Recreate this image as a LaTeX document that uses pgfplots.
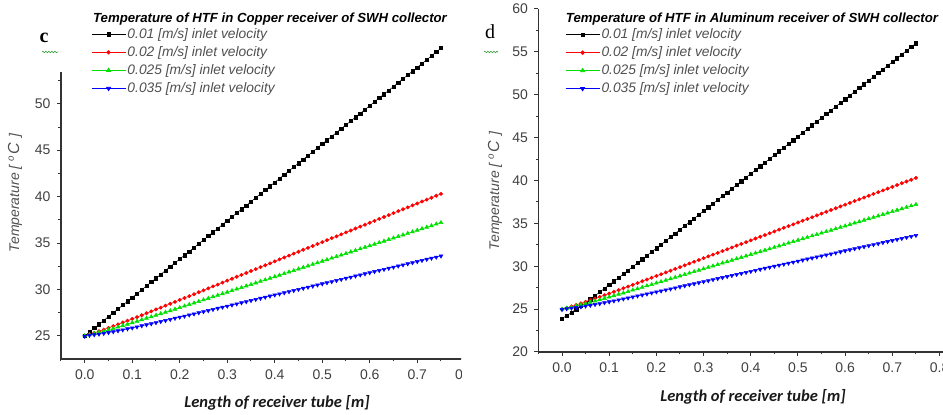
\documentclass[border=0pt]{standalone}
\usepackage{fontspec}
\setmainfont{Liberation Sans}
\newfontfamily\carlito{Carlito}
\newfontfamily\tnr{Liberation Serif}
\usepackage{pgfplots}
\usepackage{pgfplotstable}
\pgfplotsset{compat=1.18}
\usetikzlibrary{decorations.pathmorphing}

\definecolor{axisgray}{HTML}{333333}
\definecolor{tickgray}{HTML}{404040}
\definecolor{leggray}{HTML}{505050}
\definecolor{mygreen}{HTML}{00E000}
\definecolor{squig}{HTML}{3CA03C}

% columns: x, 0.01 (k), 0.02 (r), 0.025 (g), 0.035 (b)
\pgfplotstableread{
x k r g b
0.00 25.00 25.00 25.00 24.95
0.01 25.41 25.15 25.11 25.05
0.02 25.83 25.32 25.23 25.11
0.03 26.24 25.49 25.37 25.18
0.04 26.65 25.67 25.50 25.26
0.05 27.07 25.85 25.64 25.35
0.06 27.48 26.04 25.79 25.44
0.07 27.89 26.23 25.94 25.54
0.08 28.31 26.43 26.09 25.64
0.09 28.72 26.62 26.25 25.75
0.10 29.13 26.82 26.41 25.85
0.11 29.55 27.02 26.57 25.96
0.12 29.96 27.22 26.73 26.08
0.13 30.37 27.43 26.89 26.19
0.14 30.79 27.63 27.05 26.30
0.15 31.20 27.84 27.22 26.42
0.16 31.61 28.04 27.38 26.54
0.17 32.03 28.25 27.54 26.65
0.18 32.44 28.45 27.71 26.77
0.19 32.85 28.66 27.87 26.89
0.20 33.27 28.87 28.04 27.01
0.21 33.68 29.07 28.20 27.12
0.22 34.09 29.28 28.37 27.24
0.23 34.51 29.48 28.53 27.36
0.24 34.92 29.69 28.70 27.48
0.25 35.33 29.90 28.87 27.60
0.26 35.75 30.11 29.03 27.72
0.27 36.16 30.32 29.20 27.84
0.28 36.57 30.52 29.37 27.96
0.29 36.99 30.73 29.53 28.08
0.30 37.40 30.94 29.70 28.20
0.31 37.81 31.15 29.87 28.32
0.32 38.23 31.36 30.03 28.44
0.33 38.64 31.56 30.20 28.56
0.34 39.05 31.77 30.37 28.68
0.35 39.47 31.98 30.53 28.80
0.36 39.88 32.19 30.70 28.92
0.37 40.29 32.40 30.87 29.04
0.38 40.71 32.60 31.03 29.16
0.39 41.12 32.81 31.20 29.28
0.40 41.53 33.02 31.37 29.40
0.41 41.95 33.23 31.53 29.52
0.42 42.36 33.44 31.70 29.64
0.43 42.77 33.64 31.87 29.76
0.44 43.19 33.85 32.03 29.88
0.45 43.60 34.06 32.20 30.00
0.46 44.01 34.27 32.37 30.12
0.47 44.43 34.48 32.53 30.24
0.48 44.84 34.68 32.70 30.36
0.49 45.25 34.89 32.87 30.48
0.50 45.67 35.10 33.04 30.60
0.51 46.08 35.31 33.20 30.72
0.52 46.49 35.52 33.37 30.84
0.53 46.90 35.72 33.54 30.96
0.54 47.32 35.93 33.70 31.08
0.55 47.73 36.14 33.87 31.20
0.56 48.14 36.35 34.04 31.32
0.57 48.56 36.56 34.20 31.44
0.58 48.97 36.76 34.37 31.56
0.59 49.38 36.97 34.54 31.68
0.60 49.80 37.18 34.70 31.80
0.61 50.21 37.39 34.87 31.92
0.62 50.62 37.60 35.04 32.04
0.63 51.04 37.80 35.20 32.16
0.64 51.45 38.01 35.37 32.28
0.65 51.86 38.22 35.54 32.40
0.66 52.28 38.43 35.70 32.52
0.67 52.69 38.64 35.87 32.64
0.68 53.10 38.84 36.04 32.76
0.69 53.52 39.05 36.20 32.88
0.70 53.93 39.26 36.37 33.00
0.71 54.34 39.47 36.54 33.12
0.72 54.76 39.68 36.70 33.24
0.73 55.17 39.88 36.87 33.36
0.74 55.58 40.09 37.04 33.48
0.75 56.00 40.30 37.20 33.60
}\copper

\pgfplotstableread{
x k r g b
0.00 23.90 25.00 25.00 24.95
0.01 24.24 25.15 25.11 25.05
0.02 24.60 25.32 25.23 25.11
0.03 24.98 25.49 25.37 25.18
0.04 25.36 25.67 25.50 25.26
0.05 25.76 25.85 25.64 25.35
0.06 26.16 26.04 25.79 25.44
0.07 26.57 26.23 25.94 25.54
0.08 26.98 26.43 26.09 25.64
0.09 27.40 26.62 26.25 25.75
0.10 27.82 26.82 26.41 25.85
0.11 28.24 27.02 26.57 25.96
0.12 28.66 27.22 26.73 26.08
0.13 29.09 27.43 26.89 26.19
0.14 29.52 27.63 27.05 26.30
0.15 29.95 27.84 27.22 26.42
0.16 30.38 28.04 27.38 26.54
0.17 30.81 28.25 27.54 26.65
0.18 31.24 28.45 27.71 26.77
0.19 31.67 28.66 27.87 26.89
0.20 32.10 28.87 28.04 27.01
0.21 32.53 29.07 28.20 27.12
0.22 32.96 29.28 28.37 27.24
0.23 33.40 29.48 28.53 27.36
0.24 33.83 29.69 28.70 27.48
0.25 34.27 29.90 28.87 27.60
0.26 34.70 30.11 29.03 27.72
0.27 35.14 30.32 29.20 27.84
0.28 35.57 30.52 29.37 27.96
0.29 36.01 30.73 29.53 28.08
0.30 36.44 30.94 29.70 28.20
0.31 36.88 31.15 29.87 28.32
0.32 37.31 31.36 30.03 28.44
0.33 37.75 31.56 30.20 28.56
0.34 38.18 31.77 30.37 28.68
0.35 38.61 31.98 30.53 28.80
0.36 39.05 32.19 30.70 28.92
0.37 39.48 32.40 30.87 29.04
0.38 39.92 32.60 31.03 29.16
0.39 40.35 32.81 31.20 29.28
0.40 40.79 33.02 31.37 29.40
0.41 41.22 33.23 31.53 29.52
0.42 41.66 33.44 31.70 29.64
0.43 42.09 33.64 31.87 29.76
0.44 42.53 33.85 32.03 29.88
0.45 42.96 34.06 32.20 30.00
0.46 43.40 34.27 32.37 30.12
0.47 43.83 34.48 32.53 30.24
0.48 44.27 34.68 32.70 30.36
0.49 44.70 34.89 32.87 30.48
0.50 45.14 35.10 33.04 30.60
0.51 45.57 35.31 33.20 30.72
0.52 46.00 35.52 33.37 30.84
0.53 46.44 35.72 33.54 30.96
0.54 46.87 35.93 33.70 31.08
0.55 47.31 36.14 33.87 31.20
0.56 47.74 36.35 34.04 31.32
0.57 48.18 36.56 34.20 31.44
0.58 48.61 36.76 34.37 31.56
0.59 49.05 36.97 34.54 31.68
0.60 49.48 37.18 34.70 31.80
0.61 49.92 37.39 34.87 31.92
0.62 50.35 37.60 35.04 32.04
0.63 50.79 37.80 35.20 32.16
0.64 51.22 38.01 35.37 32.28
0.65 51.66 38.22 35.54 32.40
0.66 52.09 38.43 35.70 32.52
0.67 52.52 38.64 35.87 32.64
0.68 52.96 38.84 36.04 32.76
0.69 53.39 39.05 36.20 32.88
0.70 53.83 39.26 36.37 33.00
0.71 54.26 39.47 36.54 33.12
0.72 54.70 39.68 36.70 33.24
0.73 55.13 39.88 36.87 33.36
0.74 55.57 40.09 37.04 33.48
0.75 56.00 40.30 37.20 33.60
}\aluminum

\pgfplotsset{
  htf/.style={
    scale only axis, clip=false,
    axis x line*=bottom, axis y line*=left,
    axis line style={line width=1.3pt, draw=axisgray},
    tick align=outside, major tick length=4pt, minor tick length=2.5pt,
    tick style={line width=1pt, draw=axisgray},
    xtick={0,0.1,0.2,0.3,0.4,0.5,0.6,0.7,0.8},
    minor xtick={-0.05,0.05,0.15,0.25,0.35,0.45,0.55,0.65,0.75},
    xticklabel style={yshift=-3.5pt, /pgf/number format/fixed, /pgf/number format/fixed zerofill, /pgf/number format/precision=1},
    yticklabel style={xshift=-3pt},
    tick label style={font=\fontsize{14}{14}\selectfont, text=tickgray},
    /pgf/number format/assume math mode=true,
    legend style={anchor=north west, draw=none, fill=none, inner sep=0pt, row sep=3.5pt,
      font=\fontsize{13.8}{14}\selectfont\itshape, text=leggray, nodes={inner sep=1.5pt}},
    legend cell align=left,
    legend image code/.code={\draw[mark repeat=2, mark phase=2, line width=0.8pt, ##1] plot coordinates {(0pt,0pt) (17pt,0pt) (34pt,0pt)};},
    every axis plot/.append style={line width=0.5pt},
  },
  kser/.style={black, mark=square*, mark size=1.6pt},
  rser/.style={red, mark=*, mark size=1.7pt},
  gser/.style={mygreen, mark=triangle*, mark size=2.2pt},
  bser/.style={blue, mark=triangle*, mark size=2.2pt, mark options={rotate=180}},
}

\begin{document}
\begin{tikzpicture}
\path[use as bounding box] (0pt,0pt) rectangle (943pt,415pt);

% c: copper receiver
\begin{scope}
\clip (0pt,0pt) rectangle (461pt,415pt);
\begin{axis}[htf, at={(61pt,56pt)}, anchor=south west,
  width=403.75pt, height=287pt,
  xmin=-0.05, xmax=0.8, ymin=22.5, ymax=53.43,
  ytick={25,30,35,40,45,50}, minor ytick={27.5,32.5,37.5,42.5,47.5,52.5},
  legend style={at={(0.0743,1.157)}}]
\addplot[kser] table[x=x, y=k]{\copper};
\addlegendentry{0.01 [m/s] inlet velocity}
\addplot[rser] table[x=x, y=r]{\copper};
\addlegendentry{0.02 [m/s] inlet velocity}
\addplot[gser] table[x=x, y=g]{\copper};
\addlegendentry{0.025 [m/s] inlet velocity}
\addplot[bser] table[x=x, y=b]{\copper};
\addlegendentry{0.035 [m/s] inlet velocity}
\end{axis}
\end{scope}

% d: aluminum receiver
\begin{scope}
\clip (462pt,0pt) rectangle (943pt,415pt);
\begin{axis}[htf, at={(538.4pt,63pt)}, anchor=south west,
  width=410.6pt, height=343pt,
  xmin=-0.05, xmax=0.82, ymin=20, ymax=60,
  ytick={20,25,30,35,40,45,50,55,60}, minor ytick={22.5,27.5,32.5,37.5,42.5,47.5,52.5,57.5},
  legend style={at={(0.0648,0.947)}}]
\addplot[kser] table[x=x, y=k]{\aluminum};
\addlegendentry{0.01 [m/s] inlet velocity}
\addplot[rser] table[x=x, y=r]{\aluminum};
\addlegendentry{0.02 [m/s] inlet velocity}
\addplot[gser] table[x=x, y=g]{\aluminum};
\addlegendentry{0.025 [m/s] inlet velocity}
\addplot[bser] table[x=x, y=b]{\aluminum};
\addlegendentry{0.035 [m/s] inlet velocity}
\end{axis}
\end{scope}

% titles, labels
\node[font=\fontsize{13.2}{13.2}\selectfont\bfseries\itshape] at (270pt,396pt) {Temperature of HTF in Copper receiver of SWH collector};
\node[font=\fontsize{13.2}{13.2}\selectfont\bfseries\itshape] at (752pt,396pt) {Temperature of HTF in Aluminum receiver of SWH collector};
\node[rotate=90, font=\fontsize{14}{14}\selectfont\itshape, text=leggray] at (15pt,222pt) {Temperature [\hspace{4pt}\textsuperscript{o}\hspace{1pt}{\fontsize{16}{16}\selectfont C}\hspace{5pt}]};
\node[rotate=90, font=\fontsize{14}{14}\selectfont\itshape, text=leggray] at (495pt,224pt) {Temperature [\hspace{4pt}\textsuperscript{o}\hspace{1pt}{\fontsize{16}{16}\selectfont C}\hspace{5pt}]};
\node[font=\carlito\bfseries\itshape\fontsize{16.5}{16.5}\selectfont, text=black!90] at (277pt,12pt) {Length of receiver tube [m]};
\node[font=\carlito\bfseries\itshape\fontsize{16.5}{16.5}\selectfont, text=black!90] at (753pt,18pt) {Length of receiver tube [m]};
\node[font=\tnr\bfseries\fontsize{20}{20}\selectfont] at (44pt,377pt) {c};
\node[font=\tnr\fontsize{20}{20}\selectfont] at (490pt,383pt) {d};
\draw[squig, line width=0.6pt, decorate, decoration={snake, amplitude=0.8pt, segment length=3pt}] (42pt,363pt) -- (58pt,363pt);
\draw[squig, line width=0.6pt, decorate, decoration={snake, amplitude=0.8pt, segment length=3pt}] (484pt,363pt) -- (498pt,363pt);
\end{tikzpicture}
\end{document}
